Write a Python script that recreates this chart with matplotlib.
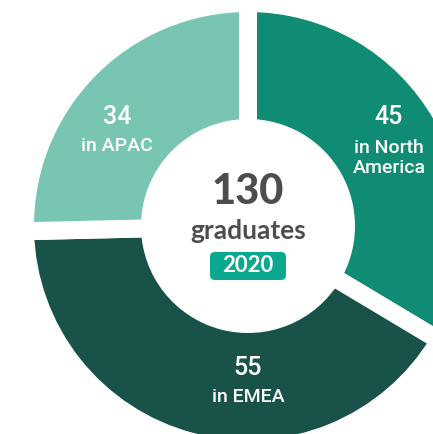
import matplotlib.pyplot as plt
from matplotlib.patches import FancyBboxPatch

# graduates per region, drawn clockwise from 12 o'clock
regions = ['North\nAmerica', 'EMEA', 'APAC']
graduates = [45, 55, 34]
colors = ['#108C75', '#185248', '#78C5B4']
total_label = '130'
year_label = '2020'

W, H = 433, 434
cx, cy = 248, H - 226          # ring centre in pixel units (y up)
gap = 18                       # white band between slices, px
r_out, r_in = 214, 107         # visible ring edges, px

fig = plt.figure(figsize=(W / 100, H / 100), dpi=100)
ax = fig.add_axes([0, 0, 1, 1])

ax.pie(graduates, colors=colors, startangle=90, counterclock=False,
       center=(cx, cy), radius=r_out + gap / 2,
       wedgeprops=dict(width=(r_out - r_in) + gap, edgecolor='white',
                       linewidth=gap * 72 / 100))

ax.set_xlim(0, W)
ax.set_ylim(0, H)
ax.set_aspect('auto')
ax.axis('off')

lab_font = dict(family='Roboto', weight='medium', color='white', ha='center', va='center')
# (x, y) of value / name lines, pixel coords from top-left
lab_pos = [(389, 117, 158), (248, 368, 397), (117, 117, 146)]
for (x, y1, y2), n, name in zip(lab_pos, graduates, regions):
    ax.text(x, H - y1, str(n), fontsize=18, **lab_font)
    ax.text(x, H - y2, 'in ' + name, fontsize=14, linespacing=1.1, **lab_font)

ax.text(cx, H - 192, total_label, fontsize=30, family='Lato', weight=900,
        color='#4D4D4F', ha='center', va='center')
ax.text(cx, H - 231, 'graduates', fontsize=19, family='Lato', weight='bold',
        color='#4D4D4F', ha='center', va='center')

badge = FancyBboxPatch((210, H - 280), 76, 28, boxstyle='round,pad=0,rounding_size=5',
                       facecolor='#0AA88E', edgecolor='none')
ax.add_patch(badge)
ax.text(248, H - 266, year_label, fontsize=16, family='Lato', weight='bold',
        color='white', ha='center', va='center')

fig.savefig('out.png', dpi=100)
